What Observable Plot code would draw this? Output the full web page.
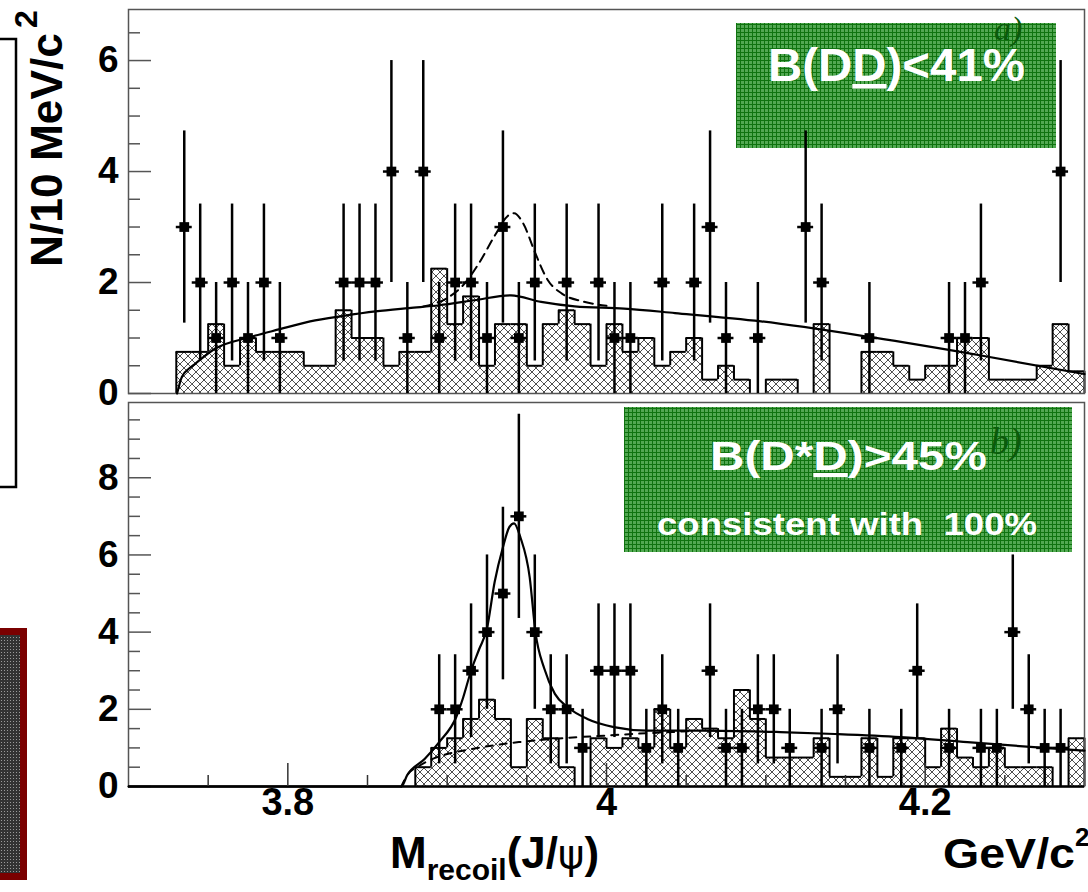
<!DOCTYPE html>
<html><head><meta charset="utf-8">
<script src="https://cdn.jsdelivr.net/npm/d3@7"></script>
<script src="https://cdn.jsdelivr.net/npm/@observablehq/plot@0.6"></script>
<style>
html,body{margin:0;padding:0;background:#fff;}
#wrap{position:relative;width:1088px;height:892px;overflow:hidden;font-family:"Liberation Sans",Arial,Helvetica,sans-serif;}
#wrap svg{position:absolute;left:0;overflow:visible;}
</style></head><body>
<div id="wrap">
<svg id="under" width="1088" height="892" style="top:0" font-family="Liberation Sans, Arial, sans-serif">
  <defs>
    <pattern id="hatch" width="8" height="8" patternUnits="userSpaceOnUse">
      <path d="M0,0 L8,8 M8,0 L0,8 M-1,7 L1,9 M7,-1 L9,1" stroke="#3a3a3a" stroke-width="0.9" fill="none"/>
    </pattern>
    <pattern id="greenGrid" width="4" height="4" patternUnits="userSpaceOnUse">
      <rect width="4" height="4" fill="#52a852"/>
      <path d="M0,0.5 H4 M0.5,0 V4" stroke="#0f730f" stroke-width="1"/>
    </pattern>
    <pattern id="greyDots" width="3" height="3" patternUnits="userSpaceOnUse">
      <rect width="3" height="3" fill="#333"/>
      <rect x="1" y="1" width="1" height="1" fill="#9a9a9a"/>
    </pattern>
  </defs>
  <rect x="736" y="23" width="320" height="125" fill="url(#greenGrid)"/>
  <text x="768" y="81" font-size="46" font-weight="bold" fill="#fff" textLength="257" lengthAdjust="spacingAndGlyphs">B(D<tspan text-decoration="underline">D</tspan>)&lt;41%</text>
  <text x="994" y="40" font-family="Liberation Serif, Times New Roman, serif" font-style="italic" font-size="34" fill="#0b5a0b">a)</text>
  <rect x="624" y="407" width="448" height="145" fill="url(#greenGrid)"/>
  <text x="710" y="470" font-size="41" font-weight="bold" fill="#fff" textLength="277" lengthAdjust="spacingAndGlyphs">B(D*<tspan text-decoration="underline">D</tspan>)&gt;45%</text>
  <text x="990" y="454" font-family="Liberation Serif, Times New Roman, serif" font-style="italic" font-size="38" fill="#0b5a0b">b)</text>
  <text x="657" y="535" font-size="31" font-weight="bold" fill="#fff" style="white-space:pre" textLength="380" lengthAdjust="spacingAndGlyphs">consistent with  100%</text>
</svg>
</div>
<script>
// ---- data ----
const massBinLow = d3.range(60).map(i => +(3.70 + i * 0.01).toFixed(2)); // 10 MeV bins, 3.70 .. 4.30
const binWidth = 0.01;

// hatched histograms (per 10 MeV bin)
const histTop = [0,0,0,0.75,0.75,1.25,0.5,1.0,0.75,0.75,
                 0.75,0.5,0.5,1.5,1.0,1.0,0.5,0.75,0.75,2.25,
                 1.25,1.75,0.5,1.25,1.25,0.5,1.25,1.5,1.25,0.5,
                 1.25,0.75,1.0,0.5,0.75,1.0,0.25,0.5,0.25,0,
                 0.25,0.25,0,1.25,0,0,0.75,0.75,0.5,0.25,
                 0.5,0.5,1.0,1.0,0.25,0.25,0.25,0.5,1.25,0.4];
const histBot = [0,0,0,0,0,0,0,0,0,0,
                 0,0,0,0,0,0,0,0,0.5,1.0,
                 1.25,1.75,2.25,1.75,0.5,1.75,1.25,0.5,0,1.25,
                 1.0,1.25,1.0,2.0,1.0,1.75,1.5,1.25,2.5,1.75,
                 0.75,0.75,0.75,1.25,0.25,0.25,1.25,0.25,1.25,1.25,
                 0.5,1.5,0.75,0.5,1.0,0.5,0.5,0.5,0,1.25];

// data points: bin centre (GeV/c^2) and entries
const topPtMass = [3.735,3.745,3.755,3.765,3.775,3.785,3.795,3.835,3.845,3.855,3.865,3.875,3.885,3.895,3.905,3.915,3.925,3.935,3.945,3.955,3.975,3.995,4.005,4.015,4.035,4.055,4.065,4.075,4.095,4.125,4.135,4.165,4.215,4.225,4.235,4.285];
const topPtN    = [3,2,1,2,1,2,1,2,2,2,4,1,4,1,2,2,1,3,1,2,2,2,1,1,2,2,3,1,1,3,2,1,1,1,2,4];
const botPtMass = [3.895,3.905,3.915,3.925,3.935,3.945,3.955,3.965,3.975,3.985,3.995,4.005,4.015,4.025,4.035,4.045,4.065,4.075,4.085,4.095,4.105,4.115,4.135,4.145,4.165,4.185,4.195,4.215,4.235,4.245,4.255,4.265,4.275,4.285];
const botPtN    = [2,2,3,4,5,7,4,2,2,1,3,3,3,1,2,1,3,1,1,2,2,1,1,2,1,1,3,1,1,1,4,2,1,1];

// fit curves
const topFitM = [3.7305,3.7335,3.738,3.742,3.7545,3.7755,3.795,3.814,3.835,3.855,3.876,3.895,3.917,3.94,3.959,3.98,4.011,4.043,4.097,4.167,4.236,4.30];
const topFitY = [0,0.3,0.45,0.54,0.81,1.01,1.16,1.3,1.4,1.48,1.54,1.59,1.68,1.77,1.65,1.57,1.53,1.45,1.30,1.01,0.68,0.35];
const topSigM = [3.885,3.9,3.91,3.92,3.93,3.938,3.942,3.948,3.955,3.963,3.972,3.985,4.0];
const topSigY = [1.57,1.72,1.95,2.35,2.85,3.2,3.25,3.05,2.55,2.05,1.8,1.66,1.58];
const botFitM = [3.70,3.8712,3.875,3.886,3.895,3.9057,3.91,3.915,3.92,3.925,3.9298,3.935,3.939,3.942,3.946,3.9518,3.9554,3.961,3.9676,3.9755,3.988,4.0046,4.0256,4.06,4.109,4.1434,4.1846,4.2265,4.2683,4.30];
const botFitY = [0,0,0.3,0.72,1.15,1.8,2.3,3.0,3.55,4.1,5.3,6.2,6.72,6.82,6.45,5.42,4.0,3.05,2.4,2.06,1.75,1.54,1.45,1.45,1.41,1.36,1.28,1.15,1.02,0.93];
const botBkgM = [3.8712,3.875,3.882,3.89,3.9,3.915,3.93,3.945,3.96,3.975,4.0,4.02,4.04,4.055];
const botBkgY = [0,0.3,0.52,0.7,0.84,0.97,1.07,1.15,1.21,1.26,1.32,1.37,1.41,1.44];

// axes
const xDomain = [3.70, 4.30];
const yDomainTop = [0, 6.92];
const yDomainBot = [0, 9.95];
const yTicksTop = [0, 2, 4, 6];
const yTicksBot = [0, 2, 4, 6, 8];
const xTicks = [3.8, 4.0, 4.2];
const xTickLabels = ["3.8", "4", "4.2"];
const xMinorTicks = [3.75, 3.85, 3.9, 3.95, 4.05, 4.1, 4.15, 4.25];

// ---- helpers ----
const FW = 956, FH = 384;
function bins(h) { return h.map((v, i) => ({x1: massBinLow[i], x2: massBinLow[i] + binWidth, h: v})); }
function steps(h) { // vertical edges between neighbouring bins
  const out = [];
  for (let i = 0; i <= h.length; i++) {
    const a = i > 0 ? h[i - 1] : 0, b = i < h.length ? h[i] : 0;
    if (a !== b) out.push({x: i < h.length ? massBinLow[i] : massBinLow[i - 1] + binWidth, y1: a, y2: b});
  }
  return out;
}
const zip = (m, n) => m.map((v, i) => ({m: v, n: n[i]}));
const curvePts = (m, y) => m.map((v, i) => ({m: v, y: y[i]}));
const minorY = (max, majors) => d3.range(0.5, max, 0.5).filter(v => !majors.includes(v));

function panel(opts) {
  const {height, marginTop, marginBottom, yDomain, yTicks, hist, pts, fit, dashed, dash, bottomAxis} = opts;
  const marks = [
    Plot.rectY(bins(hist).filter(d => d.h > 0), {x1: "x1", x2: "x2", y1: 0, y2: "h", fill: "url(#hatch)"}),
    Plot.ruleY(bins(hist).filter(d => d.h > 0), {y: "h", x1: "x1", x2: "x2", stroke: "black", strokeWidth: 2}),
    Plot.ruleX(steps(hist), {x: "x", y1: "y1", y2: "y2", stroke: "black", strokeWidth: 2}),
    Plot.frame({stroke: "#555", strokeWidth: 1.5}),
    Plot.tickY(yTicks, {y: d => d, stroke: "#555", strokeWidth: 1.5, insetRight: FW - 23}),
    Plot.tickY(minorY(yDomain[1], yTicks), {y: d => d, stroke: "#555", strokeWidth: 1.5, insetRight: FW - 12}),
    Plot.text(yTicks, {y: d => d, text: d => String(d), frameAnchor: "left", dx: -10, textAnchor: "end",
                       fontSize: 37, fontWeight: "bold", fill: "black"}),
    Plot.line(curvePts(dashed.m, dashed.y), {x: "m", y: "y", curve: "monotone-x", stroke: "black", strokeWidth: 2, strokeDasharray: dash}),
    Plot.line(curvePts(fit.m, fit.y), {x: "m", y: "y", curve: "monotone-x", stroke: "black", strokeWidth: 2.2}),
    Plot.ruleX(zip(pts.m, pts.n), {x: "m", y1: d => Math.max(0, d.n - Math.sqrt(d.n)), y2: d => d.n + Math.sqrt(d.n), stroke: "black", strokeWidth: 2.5}),
    Plot.ruleY(zip(pts.m, pts.n), {y: "n", x1: d => d.m - binWidth / 2, x2: d => d.m + binWidth / 2, stroke: "black", strokeWidth: 2.5}),
    Plot.dot(zip(pts.m, pts.n), {x: "m", y: "n", symbol: "square", r: 5.5, fill: "black"})
  ];
  if (bottomAxis) {
    marks.push(
      Plot.ruleY([0], {stroke: "black", strokeWidth: 2.5}),
      Plot.tickX(xTicks, {x: d => d, stroke: "#333", strokeWidth: 1.5, insetTop: FH - 23}),
      Plot.tickX(xMinorTicks, {x: d => d, stroke: "#333", strokeWidth: 1.5, insetTop: FH - 11}),
      Plot.text(xTicks, {x: d => d, text: (d, i) => xTickLabels[i], frameAnchor: "bottom", dy: 28,
                         fontSize: 38, fontWeight: "bold", fill: "black"})
    );
  }
  return Plot.plot({
    width: 1088, height, marginLeft: 128, marginRight: 4, marginTop, marginBottom,
    x: {domain: xDomain, axis: null},
    y: {domain: yDomain, axis: null},
    style: {background: "transparent", fontFamily: "Liberation Sans, Arial, sans-serif", color: "black", overflow: "visible"},
    marks
  });
}

const wrap = document.getElementById("wrap");
const botPanel = panel({height: 492, marginTop: 2, marginBottom: 106, yDomain: yDomainBot, yTicks: yTicksBot,
  hist: histBot, pts: {m: botPtMass, n: botPtN}, fit: {m: botFitM, y: botFitY}, dashed: {m: botBkgM, y: botBkgY}, dash: "7,7", bottomAxis: true});
botPanel.style.top = "400px";
wrap.appendChild(botPanel);
const topPanel = panel({height: 400, marginTop: 9, marginBottom: 7, yDomain: yDomainTop, yTicks: yTicksTop,
  hist: histTop, pts: {m: topPtMass, n: topPtN}, fit: {m: topFitM, y: topFitY}, dashed: {m: topSigM, y: topSigY}, dash: "9,6", bottomAxis: false});
topPanel.style.top = "0px";
wrap.appendChild(topPanel);

// overlay: axis titles and page decorations
const ns = "http://www.w3.org/2000/svg";
const over = document.createElementNS(ns, "svg");
over.setAttribute("width", 1088); over.setAttribute("height", 892);
over.style.top = "0px"; over.style.pointerEvents = "none";
over.setAttribute("font-family", "Liberation Sans, Arial, sans-serif");
over.innerHTML = `
  <path d="M0,39 H16 V487 H0" fill="none" stroke="#000" stroke-width="2.5"/>
  <rect x="-10" y="631.5" width="33.5" height="245" fill="url(#greyDots)" stroke="#7a0000" stroke-width="7"/>
  <text transform="translate(62,267) rotate(-90)" font-size="45" font-weight="bold" textLength="234" lengthAdjust="spacingAndGlyphs">N/10 MeV/c</text>
  <text transform="translate(37,28) rotate(-90)" font-size="32" font-weight="bold">2</text>
  <text x="390" y="868" font-size="44" font-weight="bold">M<tspan font-size="30" dy="12">recoil</tspan><tspan dy="-12">(J/<tspan font-weight="normal" font-family="DejaVu Sans, sans-serif" font-size="40">ψ</tspan>)</tspan></text>
  <text x="943" y="868" font-size="42" font-weight="bold" textLength="132" lengthAdjust="spacingAndGlyphs">GeV/c</text>
  <text x="1075" y="846" font-size="26" font-weight="bold">2</text>
`;
wrap.appendChild(over);
</script>
</body></html>
